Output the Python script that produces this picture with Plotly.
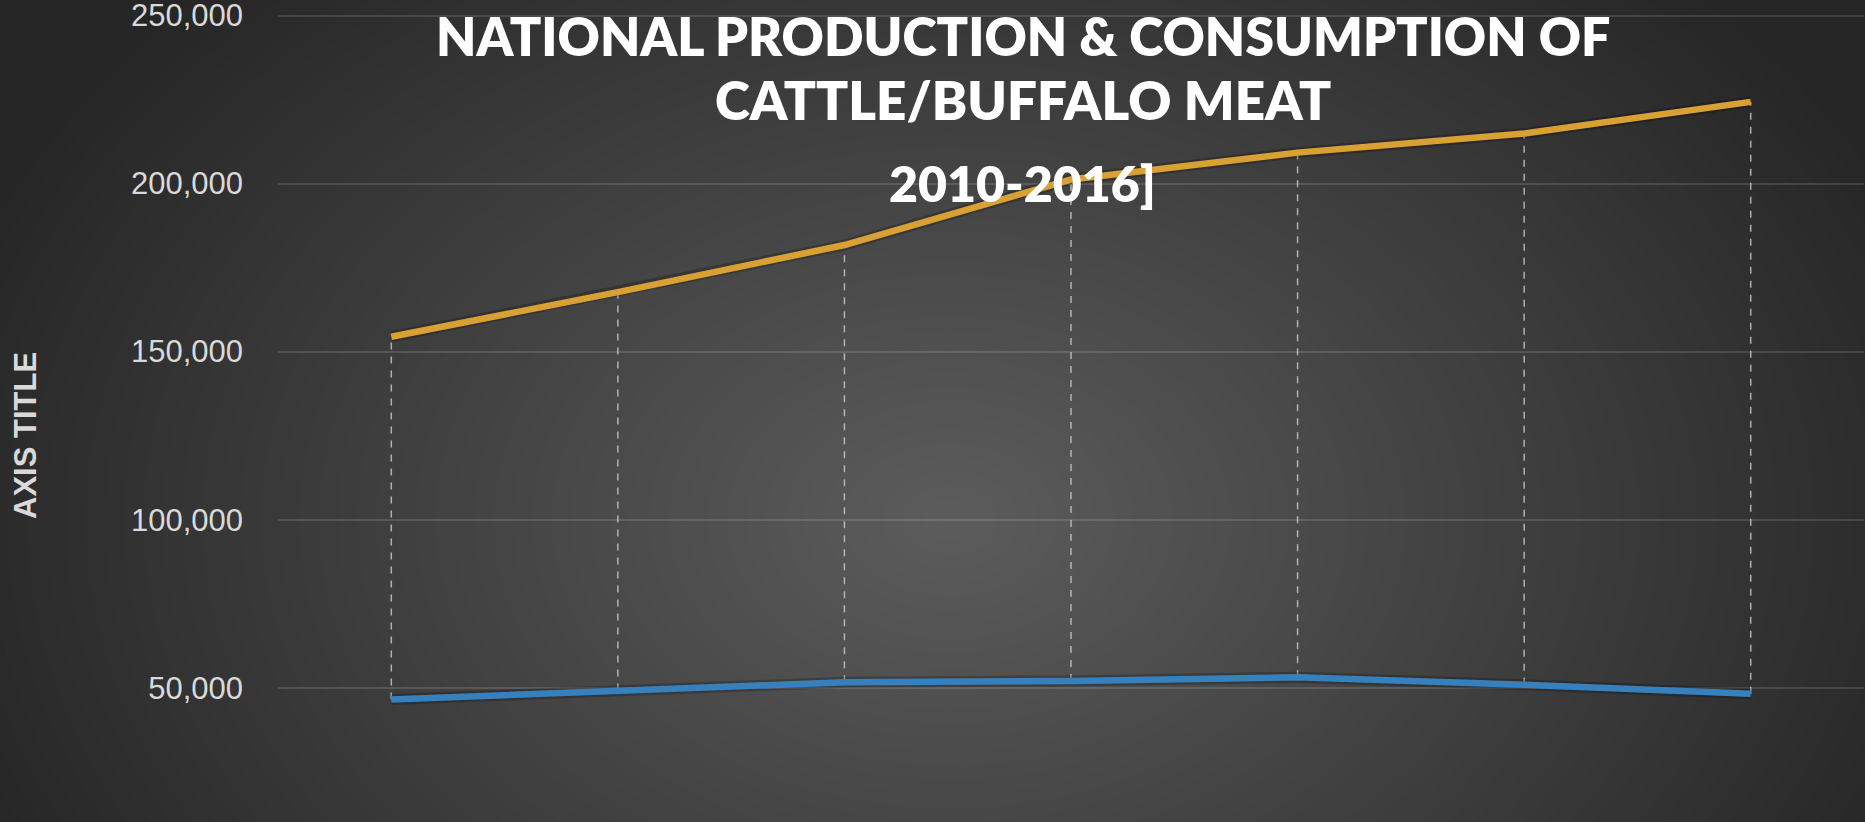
import plotly.graph_objects as go

# ---------------- data ----------------
years = ["2010", "2011", "2012", "2013", "2014", "2015", "2016"]
consumption = [154400, 167700, 181700, 201200, 209200, 214900, 224300]
production = [46500, 49200, 51600, 52000, 53100, 50900, 48200]
y_tick_values = [50000, 100000, 150000, 200000, 250000]
y_tick_labels = ["50,000", "100,000", "150,000", "200,000", "250,000"]
title_lines = ["NATIONAL PRODUCTION &amp; CONSUMPTION OF", "CATTLE/BUFFALO MEAT", "2010-2016]"]
axis_title = "AXIS TITLE"

W, H = 1865, 822
PLOT_L, PLOT_R = 278, 1864
Y_MIN, Y_MAX = 10040, 250300
PX_PER_UNIT = (822 - 15.5) / (250000 - Y_MIN)
PLOT_T = 15.5 - (Y_MAX - 250000) * PX_PER_UNIT

fig = go.Figure()

# high-low lines between the two series
hx, hy = [], []
for yr, lo, hi in zip(years, production, consumption):
    hx += [yr, yr, None]
    hy += [lo, hi, None]
fig.add_trace(go.Scatter(
    x=hx, y=hy, mode="lines",
    line=dict(color="rgba(205,205,205,0.8)", width=1.5, dash="7px,7px"),
    hoverinfo="skip", showlegend=False))

for series, color, name in [(consumption, "#D9A034", "Consumption"),
                            (production, "#3780BE", "Production")]:
    fig.add_trace(go.Scatter(
        x=years, y=series, mode="lines", name=name,
        line=dict(color="rgba(0,0,0,0.22)", width=11),
        hoverinfo="skip", showlegend=False))
    fig.add_trace(go.Scatter(
        x=years, y=series, mode="lines", name=name,
        line=dict(color=color, width=6.5),
        showlegend=False))

# radial background gradient (style only) via concentric ellipses
cx, cy, ax_, ay_ = 950, 520, 1050, 760
edge, center = 38, 92
shapes = []
steps = center - edge
for i in range(steps + 1):
    r = (steps - i + 0.5) / steps if i > 0 else 2.0
    lvl = edge + i
    shapes.append(dict(
        type="circle", xref="paper", yref="paper", layer="below",
        x0=(cx - ax_ * r) / W, x1=(cx + ax_ * r) / W,
        y0=1 - (cy + ay_ * r) / H, y1=1 - (cy - ay_ * r) / H,
        fillcolor=f"rgb({lvl},{lvl},{lvl})", line=dict(width=0)))

annotations = []
for text, ymid, size in [(title_lines[0], 36, 52), (title_lines[1], 100, 53), (title_lines[2], 183, 50)]:
    annotations.append(dict(
        text=text, xref="paper", yref="paper", x=1023 / W, y=1 - ymid / H,
        xanchor="center", yanchor="middle", showarrow=False,
        font=dict(family="Lato", color="white", size=size, weight=800)))
annotations.append(dict(
    text=f"<b>{axis_title}</b>", xref="paper", yref="paper", x=25 / W, y=1 - 436 / H,
    xanchor="center", yanchor="middle", showarrow=False, textangle=-90,
    font=dict(family="Liberation Sans", color="#d9d9d9", size=31)))

fig.update_layout(
    width=W, height=H,
    autosize=False,
    margin=dict(l=0, r=0, t=0, b=0, pad=0, autoexpand=False),
    paper_bgcolor="#262626",
    plot_bgcolor="rgba(0,0,0,0)",
    shapes=shapes,
    annotations=annotations,
    xaxis=dict(
        type="category", categoryorder="array", categoryarray=years,
        range=[-0.5, 6.5], domain=[PLOT_L / W, PLOT_R / W],
        showgrid=False, showticklabels=False, zeroline=False, showline=False,
        automargin=False),
    yaxis=dict(
        range=[Y_MIN, Y_MAX], domain=[0, 1 - PLOT_T / H],
        tickvals=y_tick_values, ticktext=y_tick_labels,
        tickfont=dict(family="Liberation Sans", size=31, color="#d9d9d9"),
        gridcolor="rgba(255,255,255,0.13)", gridwidth=1.5,
        zeroline=False, showline=False, ticks="", ticklabelstandoff=34,
        ticklabeloverflow="allow", automargin=False),
    showlegend=False,
)

fig.write_html(
    "out.html",
    config={"displayModeBar": False},
    post_script="document.body.style.margin='0';document.body.style.padding='0';"
                "document.body.style.background='#262626';",
)
